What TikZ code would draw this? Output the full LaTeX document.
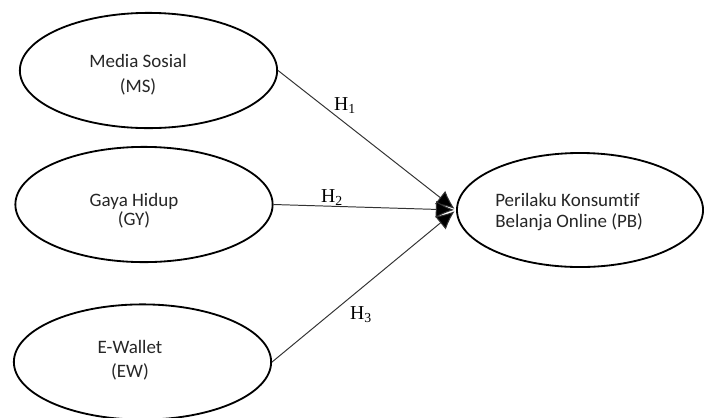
\documentclass[tikz,border=0pt]{standalone}
\usepackage{fontspec}
\setmainfont{Carlito}[Ligatures=NoCommon]
\newfontfamily\hfont{Liberation Serif}
\usetikzlibrary{shapes.geometric,arrows.meta}

\tikzset{
  konstruk/.style={ellipse, draw, line width=1.3pt, inner sep=0pt,
    minimum width=6.43cm, minimum height=2.88cm},
  teks/.style={align=center, text=black!85, inner sep=0pt,
    font=\fontsize{13.5}{17.5}\selectfont},
  jalur/.style={line width=0.7pt, black!80, shorten >=1.4pt,
    -{Latex[length=13pt,width=12pt,fill=black]}},
  hlabel/.style={inner sep=0pt, font=\hfont\fontsize{14}{16}\selectfont}
}

\begin{document}
\begin{tikzpicture}[x=0.025cm, y=-0.025cm]
    % --- ukuran gambar (dalam piksel) ---
    \useasboundingbox (0,0) rectangle (704,417);

    % --- variabel bebas (kiri) ---
    \node[konstruk] (ms) at (148.5,70.5) {};
    \node[konstruk] (gy) at (144,204.5) {};
    \node[konstruk] (ew) at (142.5,362) {};

    % --- variabel terikat (kanan) ---
    \node[konstruk, minimum width=6.15cm, minimum height=2.85cm] (pb) at (580,210) {};

    % --- teks di dalam elips ---
    \node[teks] (ms-t) at (138,75) {Media Sosial\\(MS)};
    \node[teks, font=\fontsize{13.5}{13.5}\selectfont] (gy-t) at (134,211) {Gaya Hidup\\(GY)};
    \node[teks, font=\fontsize{13.5}{17}\selectfont] (ew-t) at (130,360) {E-Wallet\\(EW)};
    \node[teks, align=left, anchor=west, font=\fontsize{13.5}{14.5}\selectfont] (pb-t) at (495,212)
        {Perilaku Konsumtif\\Belanja Online (PB)};

    % --- jalur hipotesis ---
    \draw[jalur] (ms.east) -- (pb.west);
    \draw[jalur] (gy.east) -- (pb.west);
    \draw[jalur] (ew.east) -- (pb.west);

    % --- label H1, H2, H3 ---
    \node[hlabel] (h1) at (345,106) {H\textsubscript{1}};
    \node[hlabel] (h2) at (332,198) {H\textsubscript{2}};
    \node[hlabel] (h3) at (361,315) {H\textsubscript{3}};

\end{tikzpicture}
\end{document}
